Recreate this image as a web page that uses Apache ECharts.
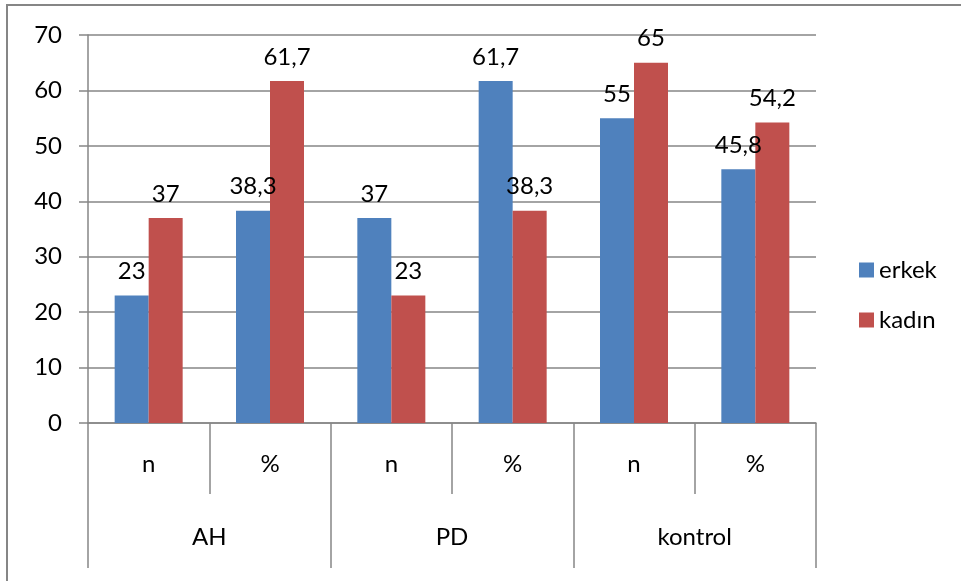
<!DOCTYPE html>
<html>
<head>
<meta charset="utf-8">
<script src="https://cdn.jsdelivr.net/npm/echarts@6/dist/echarts.min.js"></script>
<style>
html,body{margin:0;padding:0;background:#fff;}
#c{width:961px;height:581px;}
</style>
</head>
<body>
<div id="c"></div>
<script>
const subCategories = ['n', '%', 'n', '%', 'n', '%'];
const groups = ['AH', 'PD', 'kontrol'];
const erkek = [23, 38.3, 37, 61.7, 55, 45.8];
const kadin = [37, 61.7, 23, 38.3, 65, 54.2];
const seriesNames = ['erkek', 'kadın'];
const yTicks = { min: 0, max: 70, interval: 10 };

const FONT = 'Lato';
const FS = 24;
const GRAY = '#868686';
const fmt = v => String(v.value).replace('.', ',');

const chart = echarts.init(document.getElementById('c'));
chart.setOption({
  animation: false,
  textStyle: { fontFamily: FONT },
  graphic: [{
    type: 'rect',
    shape: { x: 7, y: 5, width: 1100, height: 1000 },
    style: { fill: 'none', stroke: GRAY, lineWidth: 2 },
    silent: true
  }],
  grid: { left: 88, right: 145, top: 35, bottom: 158 },
  legend: {
    orient: 'vertical',
    left: 854,
    top: 253,
    padding: 5,
    itemWidth: 15,
    itemHeight: 15,
    itemGap: 26,
    icon: 'rect',
    textStyle: { fontSize: FS, color: '#000', fontFamily: FONT },
    data: seriesNames
  },
  xAxis: [{
    type: 'category',
    data: subCategories,
    position: 'bottom',
    axisLine: { show: true, lineStyle: { color: GRAY, width: 1.5 } },
    axisTick: { show: true, length: 71, lineStyle: { color: GRAY, width: 1.5 } },
    axisLabel: { color: '#000', fontSize: FS, margin: 29, fontFamily: FONT }
  }, {
    type: 'category',
    data: groups,
    position: 'bottom',
    axisLine: { show: false },
    axisTick: { show: true, length: 145, lineStyle: { color: GRAY, width: 1.5 } },
    axisLabel: { color: '#000', fontSize: FS, margin: 102, fontFamily: FONT }
  }],
  yAxis: {
    type: 'value',
    min: yTicks.min, max: yTicks.max, interval: yTicks.interval,
    axisLine: { show: true, lineStyle: { color: GRAY, width: 1.5 } },
    axisTick: { show: true, length: 9, lineStyle: { color: GRAY, width: 1.5 } },
    splitLine: { show: true, lineStyle: { color: GRAY, width: 1.5 } },
    axisLabel: { color: '#000', fontSize: FS, margin: 26, fontFamily: FONT }
  },
  series: [{
    name: seriesNames[0],
    type: 'bar',
    data: erkek,
    barWidth: 34,
    barGap: '0%',
    itemStyle: { color: '#4F81BD' },
    label: { show: true, position: 'top', distance: 12, color: '#000', fontSize: FS, fontFamily: FONT, formatter: fmt }
  }, {
    name: seriesNames[1],
    type: 'bar',
    data: kadin,
    barWidth: 34,
    barGap: '0%',
    itemStyle: { color: '#C0504D' },
    label: { show: true, position: 'top', distance: 12, color: '#000', fontSize: FS, fontFamily: FONT, formatter: fmt }
  }]
});
</script>
</body>
</html>
